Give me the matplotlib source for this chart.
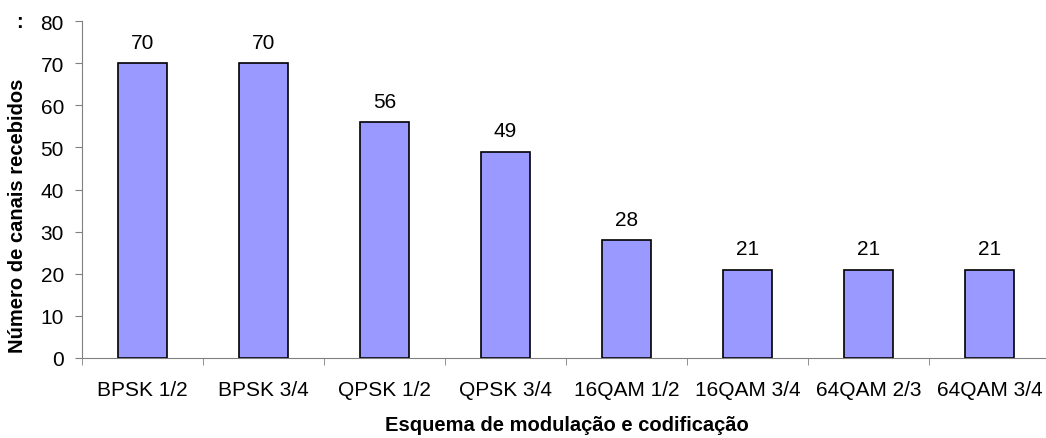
import matplotlib
matplotlib.use('Agg')
import matplotlib.pyplot as plt
import numpy as np

plt.rcParams['font.family'] = ['Liberation Sans', 'DejaVu Sans']

# dados
esquemas = ['BPSK 1/2', 'BPSK 3/4', 'QPSK 1/2', 'QPSK 3/4',
            '16QAM 1/2', '16QAM 3/4', '64QAM 2/3', '64QAM 3/4']
canais = [70, 70, 56, 49, 28, 21, 21, 21]

fig = plt.figure(figsize=(10.46, 4.39), dpi=100)
W, H = 1046, 439
ax = fig.add_axes([82 / W, 1 - 359 / H, (1050 - 82) / W, (359 - 22) / H])

x = np.arange(len(esquemas))
bars = ax.bar(x, canais, width=0.4, color='#9999FF', edgecolor='black', linewidth=1.2)
ax.bar_label(bars, padding=8, fontsize=15)

ax.set_xlim(-0.5, len(esquemas) - 0.5)
ax.set_ylim(0, 80)
ax.set_yticks(range(0, 81, 10))
ax.set_xticks(x)
ax.set_xticklabels(esquemas, fontsize=15)
ax.tick_params(axis='x', length=0, pad=16)
ax.set_xticks(np.arange(-0.5, len(esquemas)), minor=True)
ax.tick_params(axis='x', which='minor', length=5, color='#808080')
ax.tick_params(axis='y', labelsize=15, length=5, color='#808080', pad=8)

for s in ['top', 'right']:
    ax.spines[s].set_visible(False)
for s in ['left', 'bottom']:
    ax.spines[s].set_color('#808080')

fig.text(567 / W, 1 - 426 / H, 'Esquema de modulação e codificação',
         ha='center', va='center', fontsize=14.5, fontweight='bold')
fig.text(18 / W, 1 - 216 / H, 'Número de canais recebidos',
         ha='center', va='center', rotation=90, fontsize=14.5, fontweight='bold')
fig.text(20 / W, 1 - 23 / H, ':', ha='center', va='center',
         fontsize=14.5, fontweight='bold')

fig.savefig('out.png', dpi=100)
